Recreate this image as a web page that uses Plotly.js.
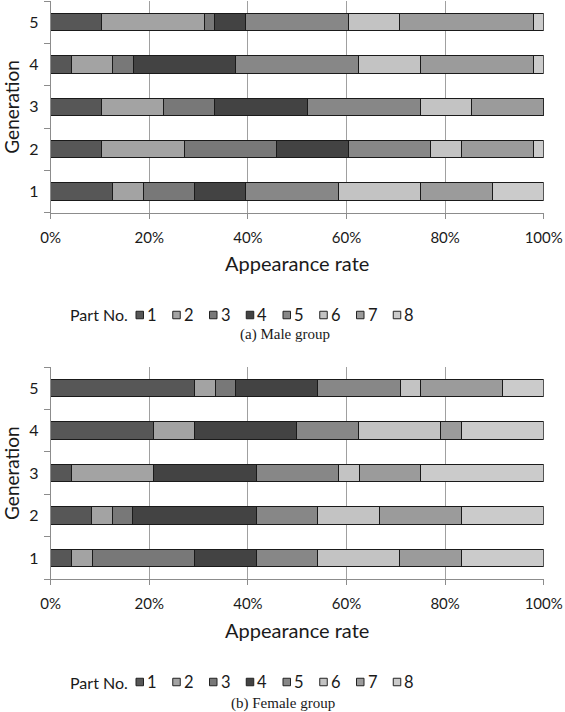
<!DOCTYPE html>
<html>
<head>
<meta charset="utf-8">
<script src="https://cdn.plot.ly/plotly-3.0.1.min.js"></script>
<style>html,body{margin:0;padding:0;background:#fff}#chart{width:565px;height:712px}</style>
</head>
<body>
<div id="chart"></div>
<script>
// Generations (y categories) and parts (stack segments)
const generations = ['1', '2', '3', '4', '5'];
const parts = ['1', '2', '3', '4', '5', '6', '7', '8'];
const partColors = ['#575757', '#a3a3a3', '#787878', '#434343', '#878787', '#c3c3c3', '#9b9b9b', '#cbcbcb'];
const xTicks = [0, 20, 40, 60, 80, 100];
const xTickLabels = ['0%', '20%', '40%', '60%', '80%', '100%'];

// (a) Male group: appearance rate (%) of each part, per generation
const maleG1 = [12.5, 6.3, 10.4, 10.4, 18.8, 16.7, 14.6, 10.4];
const maleG2 = [10.4, 16.7, 18.8, 14.6, 16.7, 6.3, 14.6, 2.1];
const maleG3 = [10.4, 12.5, 10.4, 18.8, 22.9, 10.4, 14.6, 0];
const maleG4 = [4.2, 8.3, 4.2, 20.8, 25.0, 12.5, 22.9, 2.1];
const maleG5 = [10.4, 20.8, 2.1, 6.3, 20.8, 10.4, 27.1, 2.1];

// (b) Female group
const femaleG1 = [4.2, 4.2, 20.8, 12.5, 12.5, 16.7, 12.5, 16.7];
const femaleG2 = [8.3, 4.2, 4.2, 25.0, 12.5, 12.5, 16.7, 16.7];
const femaleG3 = [4.2, 16.7, 0, 20.8, 16.7, 4.2, 12.5, 25.0];
const femaleG4 = [20.8, 8.3, 0, 20.8, 12.5, 16.7, 4.2, 16.7];
const femaleG5 = [29.2, 4.2, 4.2, 16.7, 16.7, 4.2, 16.7, 8.3];

const maleRows = [maleG1, maleG2, maleG3, maleG4, maleG5];
const femaleRows = [femaleG1, femaleG2, femaleG3, femaleG4, femaleG5];

const FONT = 'Lato, "Open Sans", sans-serif';
const SERIF = '"Liberation Serif", "DejaVu Serif", serif';
const W = 565, H = 712;
const traces = [];
function addGroup(rows, xa, ya) {
  parts.forEach((p, i) => {
    traces.push({
      type: 'bar',
      orientation: 'h',
      name: p,
      x: rows.map(r => r[i]),
      y: generations,
      xaxis: xa,
      yaxis: ya,
      marker: {color: partColors[i], line: {color: '#1a1a1a', width: 1}},
      showlegend: false,
      hoverinfo: 'x+y+name'
    });
  });
}
addGroup(maleRows, 'x', 'y');
addGroup(femaleRows, 'x2', 'y2');

function xAxis(anchor) {
  return {
    domain: [50.7 / W, 543.7 / W],
    anchor: anchor,
    range: [0, 100],
    tickmode: 'array',
    tickvals: xTicks,
    ticktext: xTickLabels,
    showgrid: true,
    gridcolor: '#a0a0a0',
    gridwidth: 1,
    zeroline: false,
    showline: true,
    linecolor: '#8c8c8c',
    linewidth: 1,
    ticks: 'outside',
    ticklen: 5,
    tickcolor: '#8c8c8c',
    tickfont: {family: FONT, size: 15, color: '#1a1a1a'},
    ticklabelstandoff: 6,
    automargin: false,
    title: {text: 'Appearance rate', font: {family: FONT, size: 20, color: '#1a1a1a'}, standoff: 12},
    fixedrange: true
  };
}
function yAxis(domain, anchor) {
  return {
    domain: domain,
    anchor: anchor,
    type: 'category',
    categoryorder: 'array',
    categoryarray: generations,
    showline: true,
    linecolor: '#8c8c8c',
    linewidth: 1,
    ticks: 'outside',
    tickson: 'boundaries',
    ticklen: 6,
    tickcolor: '#8c8c8c',
    showgrid: false,
    automargin: false,
    tickfont: {family: FONT, size: 16, color: '#1a1a1a'},
    ticklabelstandoff: 8,
    title: {text: 'Generation', font: {family: FONT, size: 19, color: '#1a1a1a'}, standoff: 6},
    fixedrange: true
  };
}

// Legend rows ("Part No." + swatches), built from parts / partColors
const shapes = [];
const annotations = [];
const LEG_X0 = 136, LEG_STEP = 36.75, BOX = 7.5;
function addLegend(cy) {
  annotations.push({text: 'Part No.', x: 69 / W, y: 1 - cy / H, xref: 'paper', yref: 'paper',
    xanchor: 'left', yanchor: 'middle', showarrow: false, borderpad: 0,
    font: {family: FONT, size: 16, color: '#1a1a1a'}});
  parts.forEach((p, i) => {
    const x0 = LEG_X0 + i * LEG_STEP;
    shapes.push({type: 'rect', xref: 'paper', yref: 'paper',
      x0: x0 / W, x1: (x0 + BOX) / W, y0: 1 - (cy + BOX / 2) / H, y1: 1 - (cy - BOX / 2) / H,
      fillcolor: partColors[i], line: {color: '#222', width: 1}});
    annotations.push({text: p, x: (x0 + 10) / W, y: 1 - cy / H, xref: 'paper', yref: 'paper',
      xanchor: 'left', yanchor: 'middle', showarrow: false, borderpad: 0,
      font: {family: FONT, size: 16.5, color: '#1a1a1a'}});
  });
}
addLegend(315);
addLegend(682);
annotations.push({text: '(a) Male group', x: 284.5 / W, y: 1 - 334 / H, xref: 'paper', yref: 'paper', showarrow: false,
  borderpad: 0, xanchor: 'center', yanchor: 'middle', font: {family: SERIF, size: 15, color: '#1a1a1a'}});
annotations.push({text: '(b) Female group', x: 282.5 / W, y: 1 - 703 / H, xref: 'paper', yref: 'paper', showarrow: false,
  borderpad: 0, xanchor: 'center', yanchor: 'middle', font: {family: SERIF, size: 15, color: '#1a1a1a'}});

const layout = {
  width: W,
  height: H,
  margin: {l: 0, r: 0, t: 0, b: 0},
  paper_bgcolor: '#ffffff',
  plot_bgcolor: '#ffffff',
  barmode: 'stack',
  barnorm: 'percent',
  bargap: 0.59,
  showlegend: false,
  xaxis: xAxis('y'),
  yaxis: yAxis([1 - 212.7 / H, 1 - 1 / H], 'x'),
  xaxis2: xAxis('y2'),
  yaxis2: yAxis([1 - 579.2 / H, 1 - 367 / H], 'x2'),
  shapes: shapes,
  annotations: annotations
};

Plotly.newPlot('chart', traces, layout, {displayModeBar: false, staticPlot: true});
</script>
</body>
</html>
